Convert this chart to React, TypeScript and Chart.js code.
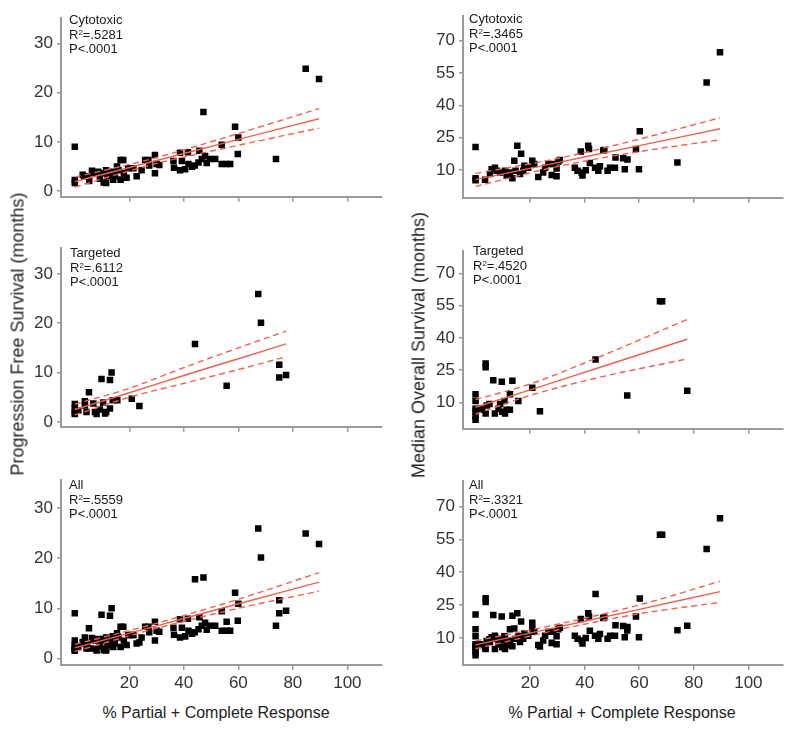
import { useEffect, useRef } from 'react';
import { Chart, registerables } from 'chart.js';
Chart.register(...registerables);

// ---------- data ----------
const pfsCytoX = [0, 0, 0, 2.9, 3.4, 4.6, 5.3, 6.3, 6.8, 8.6, 9.2, 9.8, 10.6, 11.5, 11.5, 12, 12.9, 14.1, 14.1, 14.7, 15.5, 16, 16.8, 17.8, 16.8, 18, 19, 19.6, 21.5, 22.7, 24.5, 25.8, 27, 27.3, 29.4, 29.4, 30, 31, 36.2, 36.4, 38.6, 38.6, 39.3, 40.5, 41.5, 41.7, 43, 44, 45.4, 45.7, 46.6, 47.2, 47.8, 48.4, 49.6, 51.5, 53.9, 53.9, 55.7, 57, 58.8, 59.8, 60, 73.8, 84.7, 89.6];
const pfsCytoY = [9.0, 2.2, 1.6, 3.3, 3.0, 3.0, 2.0, 4.1, 3.6, 3.9, 2.5, 3.6, 1.7, 4.2, 1.6, 3.0, 3.6, 2.3, 3.9, 3.0, 5.0, 4.2, 6.3, 6.3, 2.3, 3.6, 2.7, 4.6, 4.6, 3.0, 4.2, 6.3, 6.3, 5.2, 7.3, 3.6, 5.5, 5.3, 6.1, 4.7, 4.2, 7.8, 6.1, 4.4, 7.9, 5.5, 4.9, 5.2, 5.8, 8.2, 6.5, 16.1, 7.1, 5.7, 6.5, 6.5, 9.4, 5.5, 5.5, 5.5, 13.1, 7.5, 10.9, 6.5, 24.9, 22.8];

const pfsTargX = [0, 0, 0, 0, 1.3, 3.7, 3.7, 4.3, 5.2, 6.8, 7.4, 8.0, 9.2, 9.8, 10.4, 11.1, 11.5, 12.9, 12.9, 13.5, 13.9, 15.6, 20.9, 23.7, 44.1, 55.7, 67.3, 68.3, 75, 75, 77.5];
const pfsTargY = [3.6, 2.7, 2.0, 1.6, 2.3, 4.2, 3.3, 2.0, 6.0, 3.7, 2.0, 1.6, 2.5, 8.7, 3.9, 1.7, 2.0, 2.7, 8.5, 10.0, 4.4, 4.4, 4.7, 3.2, 15.8, 7.3, 25.9, 20.1, 11.6, 9.0, 9.5];

const osCytoX = [0, 0, 0, 3.5, 5.3, 5.9, 7.1, 7.8, 9.0, 10.8, 11.4, 12.6, 13.5, 14.2, 14.7, 15.3, 16.3, 16.7, 17.5, 17.9, 19.3, 20.8, 21.5, 23, 24.8, 25.5, 26.7, 27.9, 28.5, 29.7, 29.7, 30.3, 30.9, 36.4, 37.4, 38.6, 38.9, 39.2, 40.4, 41.3, 41.6, 41.9, 43.8, 45, 45.6, 46.8, 47.2, 48.4, 49.3, 51.1, 51.3, 54.1, 54.7, 55.7, 58.8, 59.9, 60.2, 74, 84.7, 89.6];
const osCytoY = [20.7, 6.2, 5.2, 5.5, 8.1, 10.3, 11.0, 9.6, 8.8, 9.6, 7.4, 8.8, 6.2, 14.3, 9.6, 21.2, 8.1, 17.5, 9.6, 12.0, 11.0, 14.3, 12.8, 6.7, 8.8, 11.0, 12.8, 7.7, 12.8, 7.1, 10.7, 13.9, 14.6, 11.0, 9.6, 18.6, 8.8, 7.4, 9.9, 21.2, 19.7, 13.2, 11.0, 9.6, 11.7, 19.0, 19.3, 9.6, 11.0, 11.0, 15.8, 15.4, 10.3, 14.9, 19.7, 10.3, 28.0, 13.5, 50.6, 64.6];

const osTargX = [0, 0, 0, 0, 0, 0, 1.6, 2.5, 3.7, 3.7, 3.7, 4.1, 5.1, 6.5, 7.1, 8.4, 9.0, 9.6, 9.8, 10.6, 10.8, 11.4, 12.6, 12.6, 13.5, 15.7, 20.8, 23.6, 44, 55.6, 67.6, 68.4, 77.6];
const osTargY = [13.9, 10.7, 7.1, 5.7, 3.5, 2.0, 7.1, 6.7, 28.1, 26.4, 4.9, 8.6, 9.3, 20.4, 4.9, 7.1, 9.3, 19.7, 5.7, 10.7, 4.9, 6.7, 6.7, 13.9, 20.1, 10.7, 16.9, 6.0, 30.0, 13.3, 57.0, 57.0, 15.5];

// regression fit + confidence limits
const fitPfsCytoX = [0, 30, 60, 89.6];
const fitPfsCytoY = [1.9, 6.2, 10.5, 14.7];
const fitPfsCytoUp = [2.8, 6.8, 11.7, 16.8];
const fitPfsCytoLo = [0.8, 5.6, 9.3, 12.8];

const fitPfsTargX = [0, 20, 40, 60, 77.5];
const fitPfsTargY = [2.5, 5.9, 9.4, 12.8, 15.8];
const fitPfsTargUp = [3.6, 6.8, 11.0, 15.0, 18.4];
const fitPfsTargLo = [1.4, 5.0, 7.8, 10.6, 13.2];

const fitPfsAllX = [0, 30, 60, 89.6];
const fitPfsAllY = [2.1, 6.5, 10.9, 15.2];
const fitPfsAllUp = [2.8, 7.0, 11.8, 17.1];
const fitPfsAllLo = [1.4, 6.0, 10.0, 13.4];

const fitOsCytoX = [0, 30, 60, 89.6];
const fitOsCytoY = [5.5, 13.4, 21.3, 29.1];
const fitOsCytoUp = [8.4, 15.3, 24.3, 34.2];
const fitOsCytoLo = [2.4, 11.6, 18.5, 24.0];

const fitOsTargX = [0, 20, 44, 77.6];
const fitOsTargY = [7.8, 15.9, 25.7, 39.4];
const fitOsTargUp = [11.4, 18.6, 30.5, 48.6];
const fitOsTargLo = [4.6, 13.3, 21.3, 30.3];

const fitOsAllX = [0, 30, 60, 89.6];
const fitOsAllY = [6.8, 14.9, 23.0, 31.1];
const fitOsAllUp = [8.6, 16.2, 25.0, 35.8];
const fitOsAllLo = [5.0, 13.6, 21.0, 26.2];

const xTickValues = [20, 40, 60, 80, 100];
const pfsTickValues = [0, 10, 20, 30];
const osTickValues = [10, 25, 40, 55, 70];

const groupLabels = ['Cytotoxic', 'Targeted', 'All'];
const r2Pfs = ['.5281', '.6112', '.5559'];
const r2Os = ['.3465', '.4520', '.3321'];
const pLabel = 'P<.0001';
const xTitle = '% Partial + Complete Response';
const yTitlePfs = 'Progression Free Survival (months)';
const yTitleOs = 'Median Overall Survival (months)';

// ---------- helpers ----------
const FONT = '"Liberation Sans", Arial, sans-serif';
const RED = '#f0604f';
const AXIS = '#9a9a9a';

const zip = (xs: number[], ys: number[]) => xs.map((x, i) => ({ x, y: ys[i] }));

type PanelSpec = {
  L: number; T: number; R: number; B: number;
  xMin: number; xMax: number; yMin: number; yMax: number;
  yTicks: number[]; bottom: boolean;
  px: number[]; py: number[];
  fx: number[]; fy: number[]; fu: number[]; fl: number[];
};

const panels: PanelSpec[] = [
  { L: 61, T: 10, R: 382, B: 201, xMin: -5.06, xMax: 112.7, yMin: -1.2, yMax: 35.2, yTicks: pfsTickValues, bottom: false,
    px: pfsCytoX, py: pfsCytoY, fx: fitPfsCytoX, fy: fitPfsCytoY, fu: fitPfsCytoUp, fl: fitPfsCytoLo },
  { L: 61, T: 240, R: 382, B: 431, xMin: -5.06, xMax: 112.7, yMin: -1.0, yMax: 35.2, yTicks: pfsTickValues, bottom: false,
    px: pfsTargX, py: pfsTargY, fx: fitPfsTargX, fy: fitPfsTargY, fu: fitPfsTargUp, fl: fitPfsTargLo },
  { L: 61, T: 472, R: 382, B: 665, xMin: -5.06, xMax: 112.7, yMin: -1.3, yMax: 35.5, yTicks: pfsTickValues, bottom: true,
    px: [...pfsCytoX, ...pfsTargX], py: [...pfsCytoY, ...pfsTargY], fx: fitPfsAllX, fy: fitPfsAllY, fu: fitPfsAllUp, fl: fitPfsAllLo },
  { L: 463, T: 8, R: 783, B: 202, xMin: -4.6, xMax: 112.7, yMin: -2.9, yMax: 81.3, yTicks: osTickValues, bottom: false,
    px: osCytoX, py: osCytoY, fx: fitOsCytoX, fy: fitOsCytoY, fu: fitOsCytoUp, fl: fitOsCytoLo },
  { L: 463, T: 243, R: 783, B: 433, xMin: -4.6, xMax: 112.7, yMin: -2.2, yMax: 80.3, yTicks: osTickValues, bottom: false,
    px: osTargX, py: osTargY, fx: fitOsTargX, fy: fitOsTargY, fu: fitOsTargUp, fl: fitOsTargLo },
  { L: 463, T: 473, R: 783, B: 665, xMin: -4.6, xMax: 112.7, yMin: -2.4, yMax: 81.5, yTicks: osTickValues, bottom: true,
    px: [...osCytoX, ...osTargX], py: [...osCytoY, ...osTargY], fx: fitOsAllX, fy: fitOsAllY, fu: fitOsAllUp, fl: fitOsAllLo },
];

const PAD_L = 60;
const PAD_T = 6;
const PAD_R = 6;

function Panel({ s }: { s: PanelSpec }) {
  const ref = useRef<HTMLCanvasElement>(null);
  const xh = s.bottom ? 34 : 10;
  const w = s.R - s.L + PAD_L + PAD_R;
  const h = s.B - s.T + PAD_T + xh;
  useEffect(() => {
    if (!ref.current) return;
    const lineDs = (ys: number[], dashed: boolean) => ({
      type: 'line' as const,
      data: zip(s.fx, ys),
      borderColor: RED,
      borderWidth: 1.4,
      borderDash: dashed ? [6, 4] : [],
      pointRadius: 0,
      fill: false,
      showLine: true,
      cubicInterpolationMode: 'monotone' as const,
    });
    const chart = new Chart(ref.current, {
      type: 'scatter',
      data: {
        datasets: [
          lineDs(s.fy, false),
          lineDs(s.fu, true),
          lineDs(s.fl, true),
          {
            type: 'scatter',
            data: zip(s.px, s.py),
            pointStyle: 'rect',
            pointRadius: 4.6,
            pointBorderWidth: 0,
            backgroundColor: '#000',
            borderColor: '#000',
          } as any,
        ],
      },
      options: {
        animation: false,
        responsive: false,
        devicePixelRatio: 1,
        layout: { padding: { left: 0, top: PAD_T, right: PAD_R, bottom: 0 } },
        plugins: { legend: { display: false }, tooltip: { enabled: false } },
        scales: {
          x: {
            type: 'linear',
            min: s.xMin,
            max: s.xMax,
            afterBuildTicks: (sc: any) => { sc.ticks = xTickValues.map((v) => ({ value: v })); },
            afterFit: (sc: any) => { sc.height = xh; },
            grid: { display: true, drawOnChartArea: false, drawTicks: true, tickLength: 5, tickColor: AXIS, lineWidth: 1.5 },
            border: { display: true, color: AXIS, width: 2 },
            ticks: {
              color: s.bottom ? '#333' : 'rgba(0,0,0,0)',
              font: { family: FONT, size: 17 },
              padding: 3,
              maxRotation: 0,
              autoSkip: false,
            },
          },
          y: {
            type: 'linear',
            min: s.yMin,
            max: s.yMax,
            afterBuildTicks: (sc: any) => { sc.ticks = s.yTicks.map((v) => ({ value: v })); },
            afterFit: (sc: any) => { sc.width = PAD_L; },
            grid: { display: true, drawOnChartArea: false, drawTicks: true, tickLength: 4, tickColor: AXIS, lineWidth: 1.5 },
            border: { display: true, color: AXIS, width: 2 },
            ticks: { color: '#333', font: { family: FONT, size: 17 }, padding: 4, autoSkip: false },
          },
        },
      } as any,
    });
    return () => chart.destroy();
  }, []);
  return (
    <canvas
      ref={ref}
      width={w}
      height={h}
      style={{ position: 'absolute', left: s.L - PAD_L, top: s.T - PAD_T, width: w, height: h }}
    />
  );
}

function Note({ x, y, label, r2 }: { x: number; y: number; label: string; r2: string }) {
  const line = { height: 14.5, lineHeight: '14.5px', whiteSpace: 'nowrap' as const };
  return (
    <div style={{ position: 'absolute', left: x, top: y, fontFamily: FONT, fontSize: 13, color: '#1a1a1a' }}>
      <div style={line}>{label}</div>
      <div style={line}>R<sup style={{ fontSize: 8, verticalAlign: 'top', lineHeight: '8px', position: 'relative', top: 1 }}>2</sup>={r2}</div>
      <div style={line}>{pLabel}</div>
    </div>
  );
}

export default function App() {
  return (
    <div style={{ position: 'fixed', left: 0, top: 0, width: 793, height: 729, background: '#fff', overflow: 'hidden' }}>
      {panels.map((s, i) => <Panel key={i} s={s} />)}
      <Note x={69} y={13} label={groupLabels[0]} r2={r2Pfs[0]} />
      <Note x={70} y={246} label={groupLabels[1]} r2={r2Pfs[1]} />
      <Note x={69} y={478} label={groupLabels[2]} r2={r2Pfs[2]} />
      <Note x={469} y={12} label={groupLabels[0]} r2={r2Os[0]} />
      <Note x={473} y={244} label={groupLabels[1]} r2={r2Os[1]} />
      <Note x={469} y={478} label={groupLabels[2]} r2={r2Os[2]} />
      <div style={{ position: 'absolute', left: 18, top: 334, transform: 'translate(-50%, -50%) rotate(-90deg)', whiteSpace: 'nowrap', fontFamily: FONT, fontSize: 18, color: '#222' }}>{yTitlePfs}</div>
      <div style={{ position: 'absolute', left: 419, top: 345, transform: 'translate(-50%, -50%) rotate(-90deg)', whiteSpace: 'nowrap', fontFamily: FONT, fontSize: 18, color: '#222' }}>{yTitleOs}</div>
      <div style={{ position: 'absolute', left: 216, top: 713, transform: 'translate(-50%, -50%)', whiteSpace: 'nowrap', fontFamily: FONT, fontSize: 16, color: '#222' }}>{xTitle}</div>
      <div style={{ position: 'absolute', left: 622, top: 713, transform: 'translate(-50%, -50%)', whiteSpace: 'nowrap', fontFamily: FONT, fontSize: 16, color: '#222' }}>{xTitle}</div>
    </div>
  );
}
